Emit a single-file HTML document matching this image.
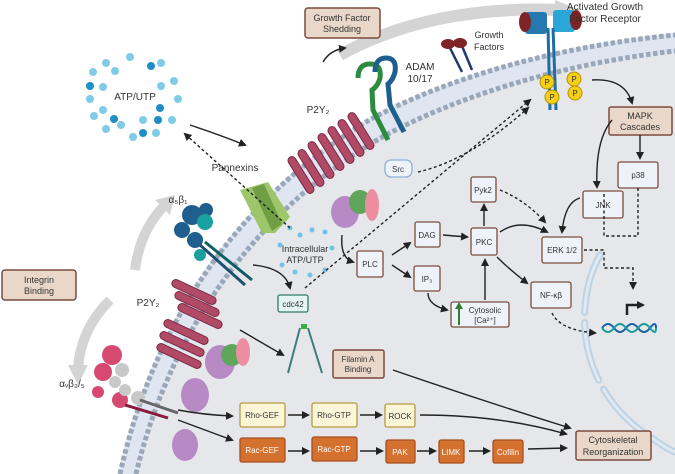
<!DOCTYPE html>
<html><head><meta charset="utf-8"><style>
html,body{margin:0;padding:0;background:#fff}
svg{display:block;font-family:"Liberation Sans",sans-serif}
.b{fill:#eef3fa;stroke:#7b4b3c;stroke-width:1.3}
.t{fill:#e9d8ca;stroke:#7b4b3c;stroke-width:1.5}
.y{fill:#fbf6d8;stroke:#b79a3e;stroke-width:1.3}
.o{fill:#d5712f;stroke:#a84e1f;stroke-width:1.3}
.l{font-size:9px;fill:#333;text-anchor:middle}
.lw{font-size:9px;fill:#fff;text-anchor:middle}
.a{stroke:#222;stroke-width:1.4;fill:none}
.d{stroke:#222;stroke-width:1.4;fill:none;stroke-dasharray:3 2.5}
</style></head><body>
<svg width="675" height="474" viewBox="0 0 675 474" xmlns="http://www.w3.org/2000/svg">
<defs>
<marker id="m" markerWidth="8" markerHeight="8" refX="6" refY="4" orient="auto" markerUnits="userSpaceOnUse"><path d="M0,0 L8,4 L0,8z" fill="#222"/></marker>
</defs>
<path d="M138,474 C170,340 250,215 385,138 C465,95 570,65 675,53 L675,474Z" fill="#e6e7ea"/>
<path d="M118,474 C150,330 230,200 370,118 C450,75 560,45 675,33 L675,53 C570,65 465,95 385,138 C250,215 170,340 138,474Z" fill="#dfe6f2"/>
<path d="M120,474 C152,330 232,201 371,119 C451,76 561,46 675,35" stroke="#9aa7b8" stroke-width="5" fill="none" stroke-dasharray="4.5 2.5"/>
<path d="M136,474 C168,340 248,214 384,136 C464,93 569,63 675,51" stroke="#9aa7b8" stroke-width="5" fill="none" stroke-dasharray="4.5 2.5"/>
<path d="M600,255 C575,300 575,380 640,430 C655,440 665,448 675,452" stroke="#bcd3e6" stroke-width="7" fill="none" stroke-dasharray="60 10" stroke-linecap="round"/>
<path d="M600,255 C575,300 575,380 640,430 C655,440 665,448 675,452" stroke="#e0e8f0" stroke-width="3" fill="none" stroke-dasharray="60 10" stroke-linecap="round"/>
<path d="M340,55 Q430,5 560,10" stroke="#d4d4d4" stroke-width="12" fill="none"/>
<path d="M555,0 L580,10 L555,22z" fill="#d4d4d4"/>
<path d="M135,270 Q140,230 165,205" stroke="#d4d4d4" stroke-width="10" fill="none"/>
<path d="M155,200 L175,195 L170,215z" fill="#d4d4d4"/>
<path d="M110,300 Q80,330 78,370" stroke="#d4d4d4" stroke-width="10" fill="none"/>
<path d="M68,365 L78,385 L88,365z" fill="#d4d4d4"/>
<g fill="#7fcbe8">
<circle cx="106" cy="63" r="4"/><circle cx="130" cy="57" r="4"/><circle cx="93" cy="72" r="4"/><circle cx="161" cy="63" r="4"/><circle cx="174" cy="81" r="4"/><circle cx="90" cy="99" r="4"/><circle cx="178" cy="99" r="4"/><circle cx="94" cy="116" r="4"/><circle cx="106" cy="129" r="4"/><circle cx="133" cy="137" r="4"/><circle cx="156" cy="133" r="4"/><circle cx="172" cy="120" r="4"/><circle cx="115" cy="71" r="4"/><circle cx="103" cy="87" r="4"/><circle cx="161" cy="86" r="4"/><circle cx="103" cy="110" r="4"/><circle cx="121" cy="125" r="4"/><circle cx="143" cy="120" r="4"/>
</g>
<g fill="#1e8ec6"><circle cx="151" cy="66" r="4"/><circle cx="90" cy="86" r="4"/><circle cx="160" cy="108" r="4"/><circle cx="114" cy="119" r="4"/><circle cx="158" cy="120" r="4"/><circle cx="143" cy="133" r="4"/></g>
<text x="135" y="100" class="l" style="font-size:10px">ATP/UTP</text>
<g fill="#6fc3e8"><circle cx="290" cy="228" r="2.5"/><circle cx="300" cy="235" r="2.5"/><circle cx="312" cy="230" r="2.5"/><circle cx="325" cy="232" r="2.5"/><circle cx="280" cy="245" r="2.5"/><circle cx="332" cy="248" r="2.5"/><circle cx="282" cy="265" r="2.5"/><circle cx="295" cy="272" r="2.5"/><circle cx="310" cy="275" r="2.5"/><circle cx="325" cy="270" r="2.5"/></g>
<text x="305" y="252" class="l">Intracellular</text><text x="305" y="263" class="l">ATP/UTP</text>
<path d="M240,190 L268,182 L290,217 L275,233 L262,233 Z" fill="#9dc56a"/>
<path d="M252,188 L264,184 L282,224 L272,231Z" fill="#6f9e44"/>
<text x="235" y="171" class="l" style="font-size:10px">Pannexins</text>
<g fill="#b04a66" stroke="#7a2b43" stroke-width="1">
<rect x="280" y="171" width="42" height="8" rx="4" transform="rotate(58 301 175)"/>
<rect x="290" y="164" width="42" height="8" rx="4" transform="rotate(58 311 168)"/>
<rect x="300" y="156" width="42" height="8" rx="4" transform="rotate(58 321 160)"/>
<rect x="310" y="148" width="42" height="8" rx="4" transform="rotate(58 331 152)"/>
<rect x="320" y="141" width="42" height="8" rx="4" transform="rotate(58 341 145)"/>
<rect x="330" y="134" width="42" height="8" rx="4" transform="rotate(58 351 138)"/>
<rect x="340" y="127" width="42" height="8" rx="4" transform="rotate(58 361 131)"/>
</g>
<text x="318" y="113" class="l" style="font-size:10px">P2Y₂</text>
<ellipse cx="345" cy="212" rx="14" ry="16" fill="#b78ac6"/>
<ellipse cx="360" cy="202" rx="11" ry="12" fill="#5fa65a"/>
<ellipse cx="372" cy="205" rx="7" ry="16" fill="#ec8ea0"/>
<path d="M358,78 q0,-14 12,-14 q12,0 10,14 q-2,8 -8,12 L373,110 L388,140" stroke="#2b8c3e" stroke-width="5" fill="none"/>
<path d="M375,72 q0,-14 11,-14 q11,0 9,14 q-2,8 -7,12 L390,105 L404,132" stroke="#1f5f8d" stroke-width="5" fill="none"/>
<text x="420" y="70" class="l" style="font-size:10px">ADAM</text><text x="420" y="82" class="l" style="font-size:10px">10/17</text>
<line x1="450" y1="48" x2="462" y2="72" stroke="#1f3c6a" stroke-width="2.5"/><line x1="462" y1="46" x2="472" y2="70" stroke="#1f3c6a" stroke-width="2.5"/>
<ellipse cx="448" cy="44" rx="7" ry="5" fill="#7e2426"/><ellipse cx="460" cy="43" rx="7" ry="5" fill="#7e2426"/>
<text x="489" y="38" class="l">Growth</text><text x="489" y="50" class="l">Factors</text>
<rect x="525" y="12" width="22" height="22" fill="#2579b0" rx="3"/><rect x="553" y="10" width="22" height="22" fill="#2aa6d8" rx="3"/>
<ellipse cx="525" cy="22" rx="6" ry="10" fill="#7e2426"/><ellipse cx="576" cy="20" rx="6" ry="10" fill="#7e2426"/>
<path d="M548,28 L550,110 M553,28 L556,110" stroke="#1d6da3" stroke-width="3"/>
<g fill="#f4cf16" stroke="#b69000" stroke-width="1"><circle cx="547" cy="82" r="7"/><circle cx="574" cy="79" r="7"/><circle cx="552" cy="97" r="7"/><circle cx="575" cy="93" r="7"/></g>
<g font-size="8" fill="#333" text-anchor="middle"><text x="547" y="85">P</text><text x="574" y="82">P</text><text x="552" y="100">P</text><text x="575" y="96">P</text></g>
<text x="605" y="10" class="l" style="font-size:10px">Activated Growth</text><text x="605" y="22" class="l" style="font-size:10px">Factor Receptor</text>
<g fill="#1e5f8d"><circle cx="192" cy="215" r="10"/><circle cx="206" cy="210" r="7"/><circle cx="182" cy="230" r="8"/><circle cx="195" cy="240" r="8"/></g>
<g fill="#1aa0a0"><circle cx="205" cy="222" r="8"/><circle cx="200" cy="255" r="6"/></g>
<line x1="200" y1="245" x2="245" y2="285" stroke="#1e4f6d" stroke-width="3"/><line x1="205" y1="242" x2="252" y2="280" stroke="#0e6060" stroke-width="3"/>
<text x="178" y="203" class="l" style="font-size:10px">α₅β₁</text>
<g fill="#b04a66" stroke="#7a2b43" stroke-width="1">
<rect x="170" y="288" width="48" height="8" rx="4" transform="rotate(25 194 292)"/>
<rect x="173" y="300" width="48" height="8" rx="4" transform="rotate(25 197 304)"/>
<rect x="176" y="312" width="48" height="8" rx="4" transform="rotate(25 200 316)"/>
<rect x="162" y="328" width="48" height="8" rx="4" transform="rotate(25 186 332)"/>
<rect x="158" y="340" width="48" height="8" rx="4" transform="rotate(25 182 344)"/>
<rect x="155" y="352" width="48" height="8" rx="4" transform="rotate(25 179 356)"/>
</g>
<text x="148" y="306" class="l" style="font-size:10px">P2Y₂</text>
<ellipse cx="220" cy="362" rx="15" ry="17" fill="#b78ac6"/><ellipse cx="232" cy="355" rx="11" ry="11" fill="#5fa65a"/><ellipse cx="243" cy="352" rx="7" ry="14" fill="#ec8ea0"/>
<ellipse cx="195" cy="395" rx="14" ry="17" fill="#b78ac6"/>
<ellipse cx="185" cy="445" rx="13" ry="16" fill="#b78ac6"/>
<g fill="#d64a72"><circle cx="112" cy="355" r="10"/><circle cx="103" cy="372" r="9"/><circle cx="120" cy="400" r="8"/><circle cx="98" cy="392" r="6"/></g>
<g fill="#c8c8c8"><circle cx="122" cy="370" r="7"/><circle cx="115" cy="382" r="6"/><circle cx="125" cy="390" r="6"/><circle cx="138" cy="398" r="7"/></g>
<line x1="140" y1="400" x2="178" y2="413" stroke="#666" stroke-width="3"/><line x1="125" y1="405" x2="168" y2="418" stroke="#8b1a3a" stroke-width="3"/>
<text x="72" y="387" class="l" style="font-size:10px">αᵥβ₃/₅</text>
<path d="M300,328 L288,373 M308,328 L322,373" stroke="#3c7d7a" stroke-width="2" fill="none"/><rect x="301" y="324" width="6" height="5" fill="#3bb040"/>
<rect x="305" y="8" width="75" height="30" rx="3" class="t"/><text x="342" y="21" class="l">Growth Factor</text><text x="342" y="32" class="l">Shedding</text>
<rect x="2" y="270" width="74" height="30" rx="3" class="t"/><text x="39" y="283" class="l">Integrin</text><text x="39" y="294" class="l">Binding</text>
<rect x="609" y="107" width="63" height="28" rx="2" class="t"/><text x="640" y="119" class="l">MAPK</text><text x="640" y="130" class="l">Cascades</text>
<rect x="618" y="162" width="40" height="26" rx="2" class="b"/><text x="638" y="178" class="l" style="font-size:8px">p38</text>
<rect x="583" y="191" width="40" height="27" rx="2" class="b"/><text x="603" y="208" class="l" style="font-size:8px">JNK</text>
<rect x="542" y="237" width="40" height="26" rx="2" class="b"/><text x="562" y="253" class="l" style="font-size:8px">ERK 1/2</text>
<rect x="471" y="177" width="25" height="25" rx="2" class="b"/><text x="483" y="193" class="l" style="font-size:8px">Pyk2</text>
<rect x="415" y="222" width="25" height="25" rx="2" class="b"/><text x="427" y="238" class="l" style="font-size:8px">DAG</text>
<rect x="471" y="228" width="26" height="27" rx="2" class="b"/><text x="484" y="245" class="l" style="font-size:8px">PKC</text>
<rect x="357" y="251" width="26" height="26" rx="2" class="b"/><text x="370" y="267" class="l" style="font-size:8px">PLC</text>
<rect x="414" y="266" width="26" height="25" rx="2" class="b"/><text x="427" y="282" class="l" style="font-size:8px">IP₃</text>
<rect x="451" y="302" width="58" height="25" rx="2" class="b"/><text x="485" y="313" class="l" style="font-size:8px">Cytosolic</text><text x="485" y="323" class="l" style="font-size:8px">[Ca²⁺]</text>
<path d="M459,325 L459,306" stroke="#2e7d32" stroke-width="2"/><path d="M455,309 L459,302 L463,309z" fill="#2e7d32"/>
<rect x="531" y="282" width="40" height="26" rx="2" class="b"/><text x="551" y="298" class="l" style="font-size:8px">NF-κβ</text>
<rect x="278" y="295" width="30" height="17" rx="2" fill="#e4f5f2" stroke="#2f7a6a" stroke-width="1.3"/><text x="293" y="307" class="l" style="font-size:8px">cdc42</text>
<rect x="385" y="160" width="27" height="17" rx="6" fill="#eef3fa" stroke="#8fb0d6" stroke-width="1.3"/><text x="398" y="172" class="l" style="font-size:8px">Src</text>
<rect x="333" y="350" width="51" height="28" rx="2" class="t"/><text x="358" y="362" class="l" style="font-size:8px">Filamin A</text><text x="358" y="372" class="l" style="font-size:8px">Binding</text>
<rect x="240" y="403" width="45" height="24" rx="2" class="y"/><text x="262" y="418" class="l" style="font-size:8px">Rho-GEF</text>
<rect x="312" y="403" width="45" height="24" rx="2" class="y"/><text x="334" y="418" class="l" style="font-size:8px">Rho-GTP</text>
<rect x="385" y="404" width="30" height="23" rx="2" class="y"/><text x="400" y="419" class="l" style="font-size:8px">ROCK</text>
<rect x="240" y="438" width="45" height="24" rx="2" class="o"/><text x="262" y="453" class="lw" style="font-size:8px">Rac-GEF</text>
<rect x="312" y="437" width="45" height="24" rx="2" class="o"/><text x="334" y="452" class="lw" style="font-size:8px">Rac-GTP</text>
<rect x="386" y="440" width="29" height="23" rx="2" class="o"/><text x="400" y="455" class="lw" style="font-size:8px">PAK</text>
<rect x="439" y="440" width="25" height="23" rx="2" class="o"/><text x="451" y="455" class="lw" style="font-size:8px">LIMK</text>
<rect x="493" y="440" width="30" height="23" rx="2" class="o"/><text x="508" y="455" class="lw" style="font-size:8px">Cofilin</text>
<rect x="576" y="431" width="75" height="29" rx="2" class="t"/><text x="613" y="443" class="l">Cytoskeletal</text><text x="613" y="455" class="l">Reorganization</text>
<path d="M602,328 q6,-8 12,0 t12,0 t12,0 t12,0 t6,0" stroke="#1b5fa6" stroke-width="2" fill="none"/>
<path d="M602,328 q6,8 12,0 t12,0 t12,0 t12,0 t6,0" stroke="#1a9c9c" stroke-width="2" fill="none"/>
<path d="M627,315 L627,305 L643,305" stroke="#222" stroke-width="2.5" fill="none" marker-end="url(#m)"/>
<path d="M190,125 Q220,135 245,145" class="a" marker-end="url(#m)"/>
<path d="M290,228 L185,134" class="d" marker-end="url(#m)"/>
<path d="M323,62 Q330,50 345,48" class="a" marker-end="url(#m)"/>
<path d="M253,265 Q285,268 290,288" class="a" marker-end="url(#m)"/>
<path d="M305,288 L530,100" class="d" marker-end="url(#m)"/>
<path d="M418,172 Q470,160 528,108" class="d" marker-end="url(#m)"/>
<path d="M342,235 Q340,258 353,262" class="a" marker-end="url(#m)"/>
<path d="M392,255 L410,243" class="a" marker-end="url(#m)"/>
<path d="M392,265 L410,277" class="a" marker-end="url(#m)"/>
<path d="M443,235 L467,237" class="a" marker-end="url(#m)"/>
<path d="M428,293 Q428,305 447,310" class="a" marker-end="url(#m)"/>
<path d="M485,300 L485,260" class="a" marker-end="url(#m)"/>
<path d="M484,226 L484,205" class="a" marker-end="url(#m)"/>
<path d="M500,190 Q525,200 545,222" class="d" marker-end="url(#m)"/>
<path d="M500,232 Q520,218 547,232" class="a" marker-end="url(#m)"/>
<path d="M580,198 Q565,202 562,232" class="a" marker-end="url(#m)"/>
<path d="M497,257 Q510,270 527,283" class="a" marker-end="url(#m)"/>
<path d="M592,80 Q625,78 632,103" class="a" marker-end="url(#m)"/>
<path d="M612,120 Q595,140 597,187" class="a" marker-end="url(#m)"/>
<path d="M640,135 L640,158" class="a" stroke-width="1" marker-end="url(#m)"/>
<path d="M638,188 L638,236 L604,236 L604,194" class="d" fill="none"/>
<path d="M584,250 L604,250 L604,268 L633,268 L633,288" class="d" marker-end="url(#m)"/>
<path d="M552,313 Q560,330 595,333" class="d" marker-end="url(#m)"/>
<path d="M240,330 L283,355" class="a" marker-end="url(#m)"/>
<path d="M178,410 Q205,415 232,416" class="a" marker-end="url(#m)"/>
<path d="M178,420 Q205,430 232,440" class="a" marker-end="url(#m)"/>
<path d="M288,415 L308,415" class="a" marker-end="url(#m)"/>
<path d="M360,415 L381,415" class="a" marker-end="url(#m)"/>
<path d="M288,451 L308,451" class="a" marker-end="url(#m)"/>
<path d="M360,451 L382,451" class="a" marker-end="url(#m)"/>
<path d="M417,451 L435,451" class="a" marker-end="url(#m)"/>
<path d="M469,451 L489,451" class="a" marker-end="url(#m)"/>
<path d="M528,449 L566,448" class="a" marker-end="url(#m)"/>
<path d="M420,415 Q500,415 566,434" class="a" marker-end="url(#m)"/>
<path d="M393,370 Q480,400 570,428" class="a" marker-end="url(#m)"/>
</svg>
</body></html>
